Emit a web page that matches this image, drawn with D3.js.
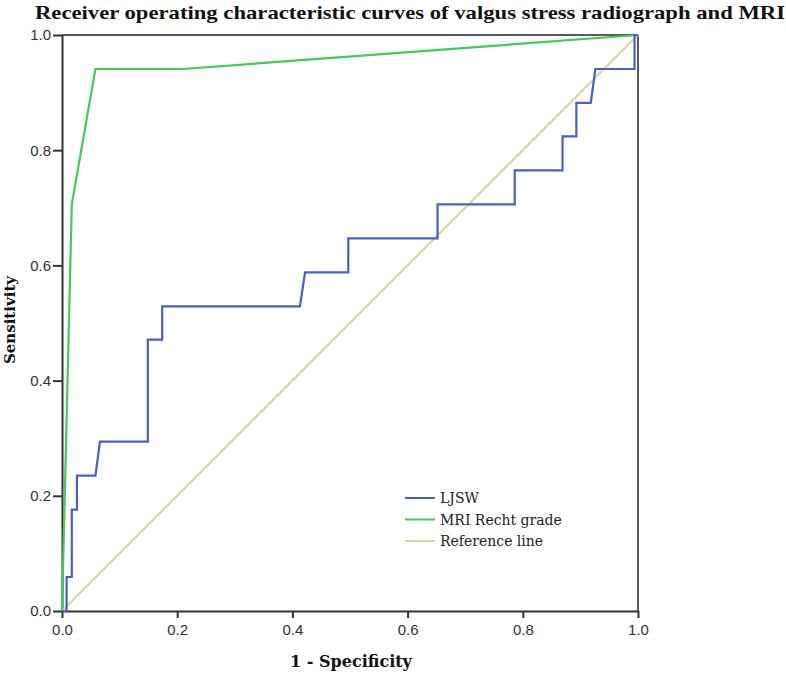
<!DOCTYPE html>
<html>
<head>
<meta charset="utf-8">
<script src="https://cdn.jsdelivr.net/npm/d3@7"></script>
<style>
  html, body { margin: 0; padding: 0; background: #fff; }
  svg { display: block; }
</style>
</head>
<body>
<svg id="chart" width="786" height="674"></svg>
<script>
// ---- data ----
const titleText = "Receiver operating characteristic curves of valgus stress radiograph and MRI";
const xTitle = "1 - Specificity";
const yTitle = "Sensitivity";
const tickValues = [0, 0.2, 0.4, 0.6, 0.8, 1.0];

const ljswFpr = [0, 0.008, 0.008, 0.017, 0.017, 0.026, 0.026, 0.058, 0.066, 0.149, 0.149, 0.174, 0.174, 0.413, 0.422, 0.497, 0.497, 0.652, 0.652, 0.786, 0.786, 0.869, 0.869, 0.893, 0.893, 0.918, 0.926, 0.994, 0.994, 1];
const ljswTpr = [0, 0, 0.059, 0.059, 0.176, 0.176, 0.235, 0.235, 0.294, 0.294, 0.471, 0.471, 0.529, 0.529, 0.588, 0.588, 0.647, 0.647, 0.706, 0.706, 0.765, 0.765, 0.824, 0.824, 0.882, 0.882, 0.941, 0.941, 1, 1];

const mriFpr = [0, 0.017, 0.058, 0.21, 1];
const mriTpr = [0, 0.706, 0.941, 0.941, 1];

const refFpr = [0, 1];
const refTpr = [0, 1];

const seriesNames = ["LJSW", "MRI Recht grade", "Reference line"];
const seriesColors = ["#4a5fc0", "#48c75c", "#d9d5a0"];

// ---- layout ----
const svg = d3.select("#chart");
const plot = { left: 62, right: 638, top: 35, bottom: 611 };

const x = d3.scaleLinear().domain([0, 1]).range([plot.left, plot.right]);
const y = d3.scaleLinear().domain([0, 1]).range([plot.bottom, plot.top]);

const serif = "'Liberation Serif', 'Times New Roman', serif";
const wideSerif = "'DejaVu Serif', Cambria, serif";
const sans = "'Liberation Sans', Arial, sans-serif";

// frame (top & right)
svg.append("line").attr("x1", plot.left).attr("x2", plot.right).attr("y1", plot.top).attr("y2", plot.top)
  .attr("stroke", "#5a5a5a").attr("stroke-width", 2);
svg.append("line").attr("x1", plot.right).attr("x2", plot.right).attr("y1", plot.top).attr("y2", plot.bottom)
  .attr("stroke", "#5a5a5a").attr("stroke-width", 2);

// axes
const xAxis = d3.axisBottom(x).tickValues(tickValues).tickFormat(d3.format(".1f")).tickSizeInner(7).tickSizeOuter(0).tickPadding(6);
const yAxis = d3.axisLeft(y).tickValues(tickValues).tickFormat(d3.format(".1f")).tickSizeInner(9).tickSizeOuter(0).tickPadding(2);

const gx = svg.append("g").attr("transform", `translate(0,${plot.bottom})`).call(xAxis);
const gy = svg.append("g").attr("transform", `translate(${plot.left},0)`).call(yAxis);
[gx, gy].forEach(g => {
  g.select(".domain").attr("stroke", "#333").attr("stroke-width", 2);
  g.selectAll(".tick line").attr("stroke", "#333").attr("stroke-width", 2);
  g.selectAll(".tick text").attr("font-family", sans).attr("font-size", 15).attr("fill", "#333");
});

// curves
const line = d3.line().x(d => x(d[0])).y(d => y(d[1]));
const refData = d3.zip(refFpr, refTpr);
const mriData = d3.zip(mriFpr, mriTpr);
const ljswData = d3.zip(ljswFpr, ljswTpr);

svg.append("path").datum(refData).attr("d", line).attr("fill", "none")
  .attr("stroke", seriesColors[2]).attr("stroke-width", 2);
svg.append("path").datum(mriData).attr("d", line).attr("fill", "none")
  .attr("stroke", seriesColors[1]).attr("stroke-width", 2.2);
svg.append("path").datum(ljswData).attr("d", line).attr("fill", "none")
  .attr("stroke", seriesColors[0]).attr("stroke-width", 2.2);

// title
svg.append("text").attr("x", 35).attr("y", 19)
  .attr("font-family", serif).attr("font-weight", "bold").attr("font-size", 19)
  .attr("textLength", 750).attr("lengthAdjust", "spacingAndGlyphs")
  .attr("fill", "#111").text(titleText);

// axis titles
svg.append("text").attr("x", 351).attr("y", 667).attr("text-anchor", "middle")
  .attr("font-family", wideSerif).attr("font-weight", "bold").attr("font-size", 16)
  .attr("fill", "#111").text(xTitle);
svg.append("text").attr("transform", "translate(15,320) rotate(-90)").attr("text-anchor", "middle")
  .attr("font-family", wideSerif).attr("font-weight", "bold").attr("font-size", 15)
  .attr("fill", "#111").text(yTitle);

// legend
const legY0 = 498, legDy = 21.5;
const leg = svg.append("g");
seriesNames.forEach((name, i) => {
  const yy = legY0 + i * legDy;
  leg.append("line").attr("x1", 405).attr("x2", 435).attr("y1", yy).attr("y2", yy)
    .attr("stroke", seriesColors[i]).attr("stroke-width", 2);
  leg.append("text").attr("x", 440).attr("y", yy + 5)
    .attr("font-family", wideSerif).attr("font-size", 14).attr("fill", "#222").text(name);
});
</script>
</body>
</html>
